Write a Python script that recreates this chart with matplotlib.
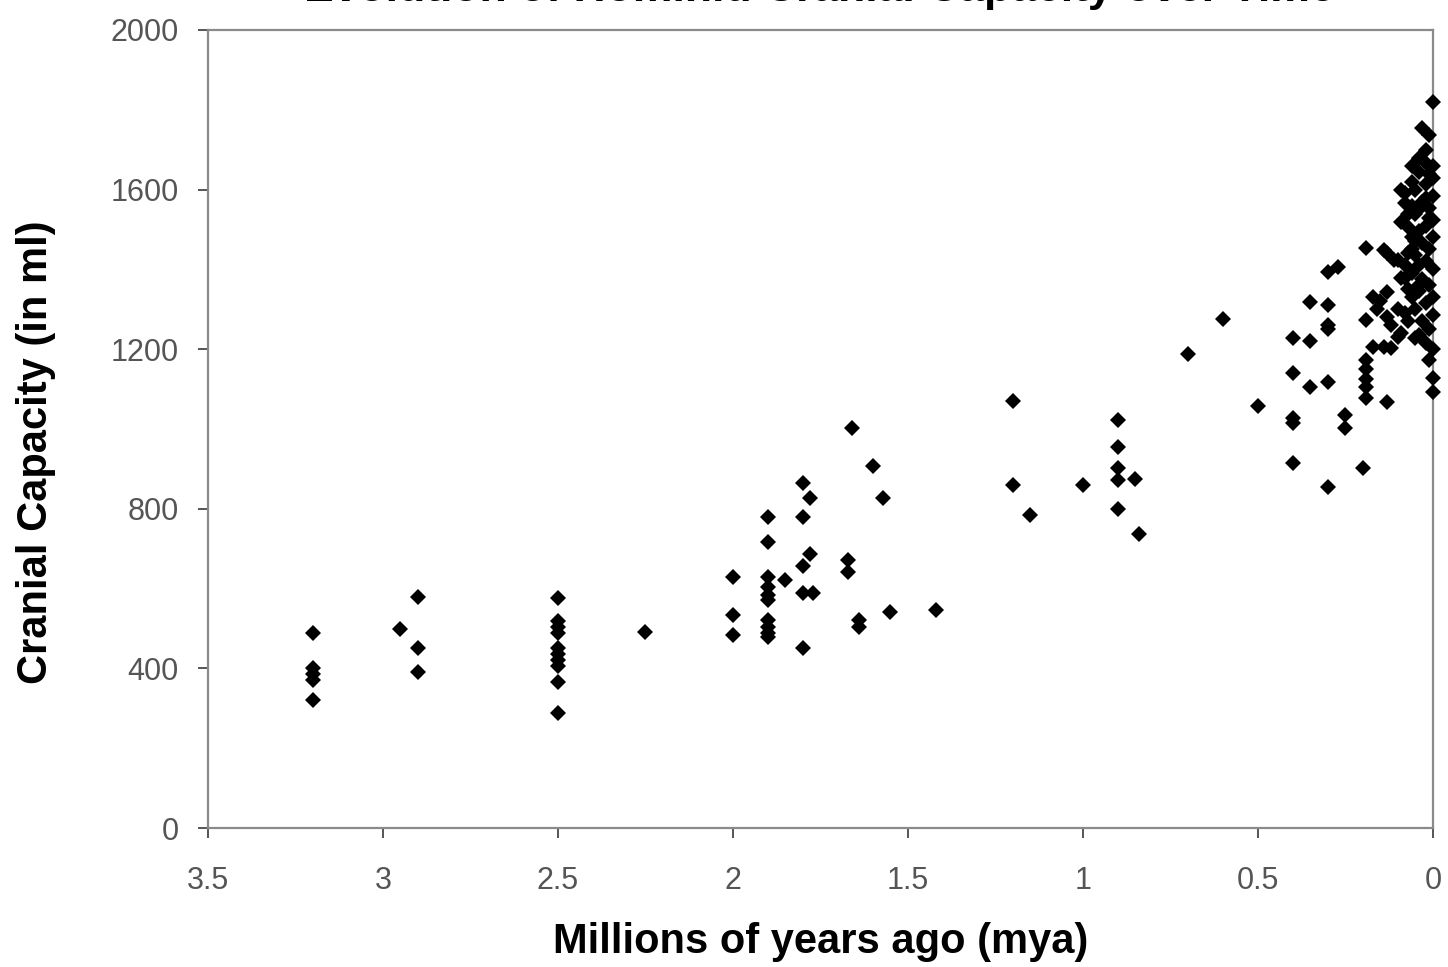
import matplotlib
matplotlib.use("Agg")
import matplotlib.pyplot as plt

# Datos: edad (millones de años) y capacidad craneal (ml)
mya = [
    3.2, 3.2, 3.2, 3.2, 3.2,
    2.95, 2.9, 2.9, 2.9,
    2.5, 2.5, 2.5, 2.5, 2.5, 2.5, 2.5, 2.5, 2.5, 2.5,
    2.25,
    2.0, 2.0, 2.0,
    1.9, 1.9, 1.9, 1.9, 1.9, 1.9, 1.9, 1.9, 1.9, 1.9,
    1.85, 1.8, 1.78, 1.8, 1.78, 1.8, 1.8, 1.77, 1.8,
    1.66, 1.6, 1.57, 1.67, 1.67, 1.64, 1.64, 1.55, 1.42,
    1.2, 1.2, 1.15, 1.0,
    0.9, 0.9, 0.9, 0.9, 0.85, 0.9, 0.84,
    0.7, 0.6, 0.5,
    0.4, 0.4, 0.4, 0.4, 0.4, 0.35, 0.35, 0.35,
    0.3, 0.3, 0.3, 0.3, 0.3, 0.3, 0.27,
    0.25, 0.25, 0.2,
    0.19, 0.19, 0.19, 0.19, 0.19, 0.19, 0.19, 0.17,
    0.13, 0.17, 0.12, 0.13, 0.13, 0.08, 0.13, 0.1, 0.08, 0.09, 0.05,
    0.14, 0.11, 0.08, 0.09, 0.15, 0.16, 0.12, 0.1, 0.14,
    0.0, 0.03, 0.01, 0.02, 0.0, 0.06, 0.08, 0.08, 0.07,
    0.0, 0.0, 0.01, 0.0, 0.02, 0.04, 0.01, 0.03, 0.0, 0.05, 0.02, 0.0,
    0.04, 0.01, 0.03, 0.06, 0.0, 0.02, 0.05, 0.01, 0.03, 0.0, 0.04, 0.02,
    0.0, 0.05, 0.01, 0.03, 0.0, 0.05, 0.02, 0.0, 0.04, 0.02, 0.06, 0.06,
    0.07, 0.06, 0.07, 0.1, 0.04, 0.01,
    0.06, 0.09, 0.07, 0.05, 0.09, 0.04, 0.02, 0.03, 0.06, 0.01, 0.04, 0.07,
]
capacidad = [
    490, 400, 385, 370, 320,
    500, 580, 450, 390,
    576, 520, 505, 490, 450, 435, 420, 405, 365, 288,
    491,
    629, 534, 484,
    779, 717, 629, 604, 585, 571, 521, 505, 490, 480,
    621, 864, 827, 779, 687, 657, 589, 589, 451,
    1003, 907, 827, 672, 642, 521, 505, 541, 546,
    1070, 860, 784, 860,
    1023, 955, 902, 872, 875, 800, 737,
    1188, 1276, 1058,
    1228, 1140, 1028, 1015, 915, 1221, 1105, 1318,
    1118, 855, 1311, 1261, 1250, 1393, 1406,
    1035, 1003, 902,
    1454, 1273, 1173, 1150, 1125, 1105, 1078, 1331,
    1068, 1206, 1203, 1343, 1281, 1291, 1441, 1424, 1378, 1241, 1228,
    1449, 1424, 1411, 1378, 1320, 1300, 1260, 1230, 1205,
    1820, 1754, 1737, 1667, 1660, 1660, 1591, 1566, 1506,
    1093, 1128, 1173, 1200, 1215, 1235, 1250, 1270, 1285, 1300, 1315, 1330,
    1345, 1360, 1375, 1390, 1400, 1420, 1435, 1450, 1465, 1480, 1495, 1510,
    1525, 1540, 1555, 1570, 1585, 1600, 1615, 1630, 1645, 1580, 1560, 1480,
    1440, 1330, 1270, 1300, 1410, 1530,
    1620, 1600, 1540, 1470, 1520, 1680, 1700, 1560, 1450, 1640, 1360, 1350,
]

titulo = "Evolution of Hominid Cranial Capacity over Time"
xticks = [3.5, 3, 2.5, 2, 1.5, 1, 0.5, 0]
xtick_labels = ["3.5", "3", "2.5", "2", "1.5", "1", "0.5", "0"]
yticks = [0, 400, 800, 1200, 1600, 2000]

plt.rcParams["font.family"] = ["Liberation Sans", "DejaVu Sans"]
gris = "#8a8a8a"

fig = plt.figure(figsize=(14.48, 9.67), dpi=100)
ax = fig.add_axes([0.1436, 0.1437, 0.8460, 0.8253])

ax.plot(mya, capacidad, linestyle="none", marker="D", markersize=8.5,
        color="black", markeredgewidth=0, clip_on=False, zorder=3)

ax.set_xlim(3.5, 0)
ax.set_ylim(0, 2000)
ax.set_xticks(xticks)
ax.set_xticklabels(xtick_labels)
ax.set_yticks(yticks)

for lado in ["top", "right", "left", "bottom"]:
    ax.spines[lado].set_color(gris)
    ax.spines[lado].set_linewidth(1.6)

ax.tick_params(axis="both", direction="out", length=7, width=1.4,
               color="#555555", labelsize=22, labelcolor="#555555")
ax.tick_params(axis="x", pad=20)
ax.tick_params(axis="y", pad=14)

ax.set_xlabel("Millions of years ago (mya)", fontsize=30, fontweight="bold")
ax.set_ylabel("Cranial Capacity (in ml)", fontsize=30, fontweight="bold")
ax.xaxis.set_label_coords(0.5, -0.118)
ax.yaxis.set_label_coords(-0.124, 0.471)

# titulo cortado en la parte superior, como en el original
fig.text(0.566, 0.999, titulo, ha="center", va="baseline",
         fontsize=32, fontweight="bold")

fig.savefig("out.png", dpi=100)
